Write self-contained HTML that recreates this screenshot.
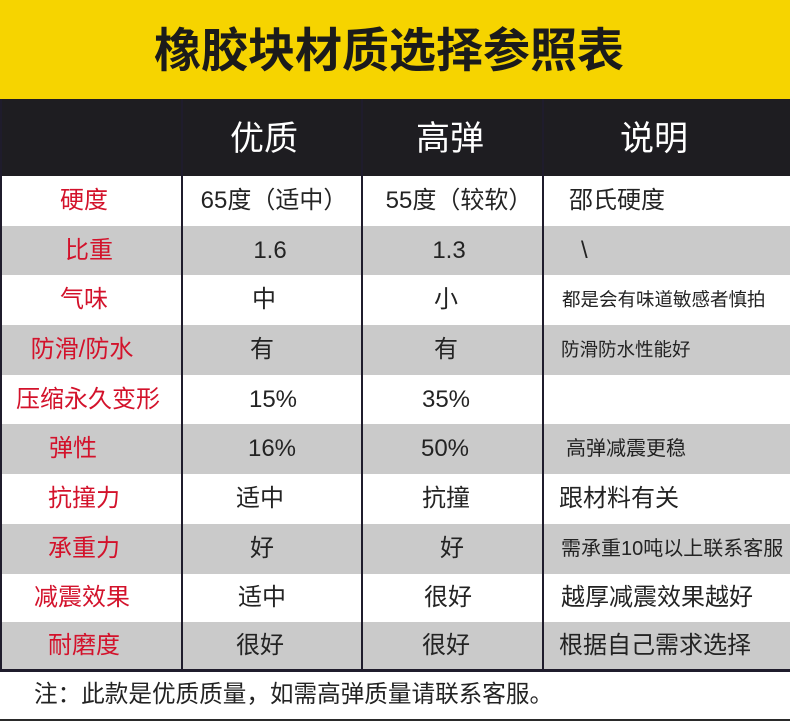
<!DOCTYPE html>
<html>
<head>
<meta charset="utf-8">
<style>
  html,body{margin:0;padding:0;}
  body{width:790px;height:722px;position:relative;overflow:hidden;background:#fff;
    font-family:"Liberation Sans","Noto Sans CJK SC",sans-serif;}
  .abs{position:absolute;}
  .t{position:absolute;white-space:nowrap;text-align:center;width:240px;}
  .l{position:absolute;white-space:nowrap;}
  .red{color:#d3122b;}
  .dk{color:#232323;}
</style>
</head>
<body>
<!-- yellow title band -->
<div class="abs" style="left:0;top:0;width:790px;height:99px;background:#f6d400;"></div>
<div class="t" style="left:0;width:778px;top:1px;height:99px;line-height:99px;font-size:47px;font-weight:bold;color:#1b1b1b;">橡胶块材质选择参照表</div>

<!-- header -->
<div class="abs" style="left:0;top:99px;width:790px;height:77px;background:#1e1d21;"></div>

<!-- rows -->
<div class="abs" style="left:0;top:176px;width:790px;height:50px;background:#ffffff;"></div>
<div class="abs" style="left:0;top:226px;width:790px;height:49px;background:#cacaca;"></div>
<div class="abs" style="left:0;top:275px;width:790px;height:50px;background:#ffffff;"></div>
<div class="abs" style="left:0;top:325px;width:790px;height:50px;background:#cacaca;"></div>
<div class="abs" style="left:0;top:375px;width:790px;height:49px;background:#ffffff;"></div>
<div class="abs" style="left:0;top:424px;width:790px;height:50px;background:#cacaca;"></div>
<div class="abs" style="left:0;top:474px;width:790px;height:50px;background:#ffffff;"></div>
<div class="abs" style="left:0;top:524px;width:790px;height:50px;background:#cacaca;"></div>
<div class="abs" style="left:0;top:574px;width:790px;height:48px;background:#ffffff;"></div>
<div class="abs" style="left:0;top:622px;width:790px;height:48px;background:#cacaca;"></div>

<!-- lines -->
<div class="abs" style="left:0;top:99px;width:2px;height:573px;background:#1f1c2c;"></div>
<div class="abs" style="left:181px;top:99px;width:2px;height:573px;background:#1f1c2c;"></div>
<div class="abs" style="left:361px;top:99px;width:2px;height:573px;background:#1f1c2c;"></div>
<div class="abs" style="left:542px;top:99px;width:2px;height:573px;background:#1f1c2c;"></div>
<div class="abs" style="left:0;top:669px;width:790px;height:3px;background:#1f1c2c;"></div>
<div class="abs" style="left:0;top:719px;width:790px;height:2px;background:#2a2a2a;"></div>

<!-- header text -->
<div class="t" style="left:144px;top:101px;height:76px;line-height:76px;font-size:34px;color:#fff;">优质</div>
<div class="t" style="left:330px;top:101px;height:76px;line-height:76px;font-size:34px;color:#fff;">高弹</div>
<div class="t" style="left:534px;top:101px;height:76px;line-height:76px;font-size:34px;color:#fff;">说明</div>

<!-- column 0 (red) -->
<div class="t red" style="left:-36px;top:176px;height:50px;line-height:50px;font-size:24px;">硬度</div>
<div class="t red" style="left:-31px;top:226px;height:49px;line-height:49px;font-size:24px;">比重</div>
<div class="t red" style="left:-36px;top:275px;height:50px;line-height:50px;font-size:24px;">气味</div>
<div class="t red" style="left:-38px;top:325px;height:50px;line-height:50px;font-size:24px;">防滑/防水</div>
<div class="t red" style="left:-32px;top:375px;height:49px;line-height:49px;font-size:24px;">压缩永久变形</div>
<div class="t red" style="left:-47px;top:424px;height:50px;line-height:50px;font-size:24px;">弹性</div>
<div class="t red" style="left:-36px;top:474px;height:50px;line-height:50px;font-size:24px;">抗撞力</div>
<div class="t red" style="left:-36px;top:524px;height:50px;line-height:50px;font-size:24px;">承重力</div>
<div class="t red" style="left:-38px;top:574px;height:48px;line-height:48px;font-size:24px;">减震效果</div>
<div class="t red" style="left:-36px;top:622px;height:48px;line-height:48px;font-size:24px;">耐磨度</div>

<!-- column 1 -->
<div class="t dk" style="left:154px;top:176px;height:50px;line-height:50px;font-size:24px;">65度（适中）</div>
<div class="t dk" style="left:150px;top:226px;height:49px;line-height:49px;font-size:24px;">1.6</div>
<div class="t dk" style="left:144px;top:275px;height:50px;line-height:50px;font-size:24px;">中</div>
<div class="t dk" style="left:142px;top:325px;height:50px;line-height:50px;font-size:24px;">有</div>
<div class="t dk" style="left:153px;top:375px;height:49px;line-height:49px;font-size:24px;">15%</div>
<div class="t dk" style="left:152px;top:424px;height:50px;line-height:50px;font-size:24px;">16%</div>
<div class="t dk" style="left:140px;top:474px;height:50px;line-height:50px;font-size:24px;">适中</div>
<div class="t dk" style="left:142px;top:524px;height:50px;line-height:50px;font-size:24px;">好</div>
<div class="t dk" style="left:142px;top:574px;height:48px;line-height:48px;font-size:24px;">适中</div>
<div class="t dk" style="left:140px;top:622px;height:48px;line-height:48px;font-size:24px;">很好</div>

<!-- column 2 -->
<div class="t dk" style="left:339px;top:176px;height:50px;line-height:50px;font-size:24px;">55度（较软）</div>
<div class="t dk" style="left:329px;top:226px;height:49px;line-height:49px;font-size:24px;">1.3</div>
<div class="t dk" style="left:326px;top:275px;height:50px;line-height:50px;font-size:24px;">小</div>
<div class="t dk" style="left:326px;top:325px;height:50px;line-height:50px;font-size:24px;">有</div>
<div class="t dk" style="left:326px;top:375px;height:49px;line-height:49px;font-size:24px;">35%</div>
<div class="t dk" style="left:325px;top:424px;height:50px;line-height:50px;font-size:24px;">50%</div>
<div class="t dk" style="left:326px;top:474px;height:50px;line-height:50px;font-size:24px;">抗撞</div>
<div class="t dk" style="left:332px;top:524px;height:50px;line-height:50px;font-size:24px;">好</div>
<div class="t dk" style="left:328px;top:574px;height:48px;line-height:48px;font-size:24px;">很好</div>
<div class="t dk" style="left:326px;top:622px;height:48px;line-height:48px;font-size:24px;">很好</div>

<!-- column 3 -->
<div class="l dk" style="left:569px;top:176px;height:50px;line-height:50px;font-size:24px;">邵氏硬度</div>
<div class="l dk" style="left:581px;top:226px;height:49px;line-height:49px;font-size:24px;">\</div>
<div class="l dk" style="left:562px;top:275px;height:50px;line-height:50px;font-size:18.5px;">都是会有味道敏感者慎拍</div>
<div class="l dk" style="left:561px;top:325px;height:50px;line-height:50px;font-size:18.5px;">防滑防水性能好</div>
<div class="l dk" style="left:566px;top:424px;height:50px;line-height:50px;font-size:20px;">高弹减震更稳</div>
<div class="l dk" style="left:559px;top:474px;height:50px;line-height:50px;font-size:24px;">跟材料有关</div>
<div class="l dk" style="left:561px;top:524px;height:50px;line-height:50px;font-size:20px;">需承重10吨以上联系客服</div>
<div class="l dk" style="left:561px;top:574px;height:48px;line-height:48px;font-size:24px;">越厚减震效果越好</div>
<div class="l dk" style="left:559px;top:622px;height:48px;line-height:48px;font-size:24px;">根据自己需求选择</div>

<!-- note -->
<div class="l dk" style="left:34px;top:672px;height:47px;line-height:47px;font-size:23.6px;">注：此款是优质质量，如需高弹质量请联系客服。</div>
</body>
</html>
